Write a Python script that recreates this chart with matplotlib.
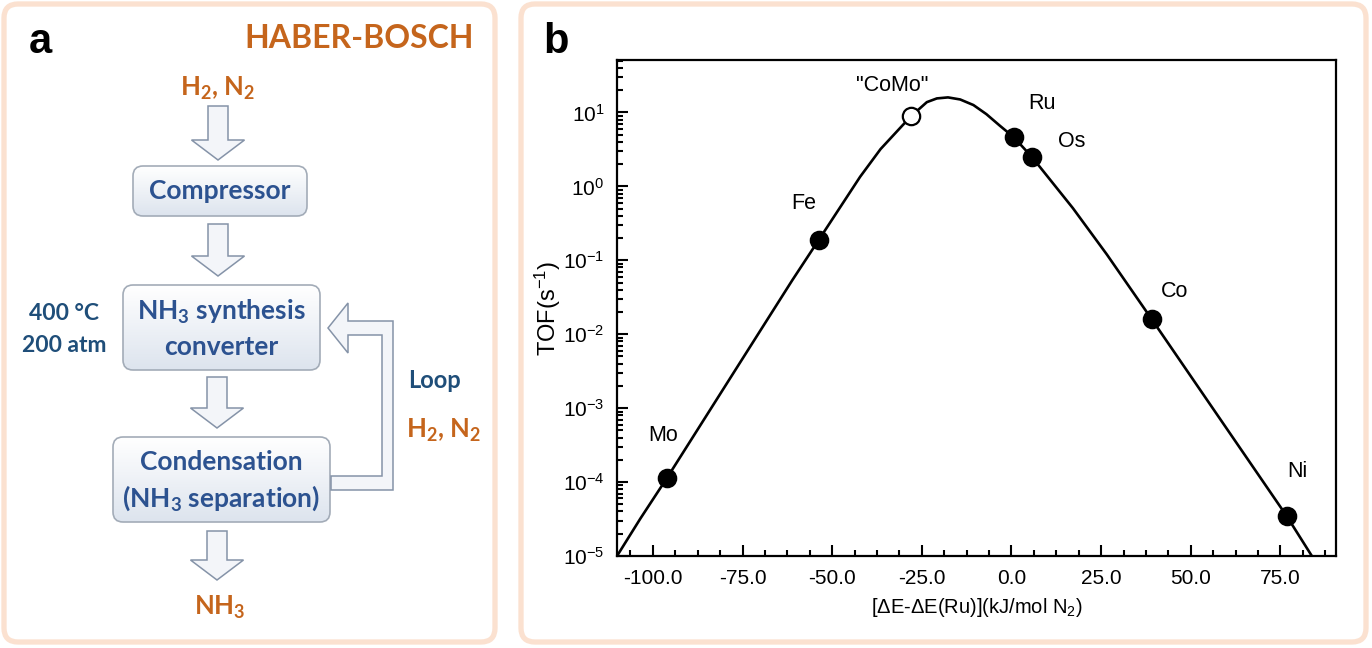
import numpy as np
import matplotlib

matplotlib.use("Agg")
import matplotlib.pyplot as plt
from matplotlib.patches import FancyBboxPatch, Polygon
from matplotlib.ticker import FixedLocator, MultipleLocator, LogLocator, FormatStrFormatter

# ---- panel b data ----
metals = ["Mo", "Fe", '"CoMo"', "Ru", "Os", "Co", "Ni"]
delta_e = [-96.0, -53.7, -28.0, 0.7, 5.7, 39.1, 76.7]
tof = [1.15e-4, 0.19, 8.9, 4.6, 2.5, 1.6e-2, 3.5e-5]
is_open = [False, False, True, False, False, False, False]
label_offsets = [(-4, 42), (-15, 36), (-19, 31), (28, 34), (40, 15), (23, 28), (11, 44)]

curve_x = [-110.0, -103.5, -96.0, -75.6, -61.1, -53.7, -42.2, -36.5, -30.5, -28.0,
           -23.6, -20.8, -17.7, -14.3, -10.6, -7.0, -3.2, 0.7, 5.7, 17.1, 26.6,
           39.1, 54.5, 76.7, 84.3]
curve_tof = [1.0e-5, 3.2e-5, 1.15e-4, 4.2e-3, 5.4e-2, 0.19, 1.35, 3.2, 6.6, 8.9,
             13.8, 15.5, 16.0, 15.0, 12.6, 9.5, 6.6, 4.6, 2.5, 0.51, 0.12,
             1.6e-2, 1.3e-3, 3.5e-5, 9.1e-6]

xticks = [-100.0, -75.0, -50.0, -25.0, 0.0, 25.0, 50.0, 75.0]

ORANGE = "#c5651c"
BLUE = "#2c5290"
NAVY = "#1f4e79"
PEACH = "#fbe1d0"

plt.rcParams.update({"font.family": ["Liberation Sans", "DejaVu Sans"],
                     "mathtext.default": "regular",
                     "axes.unicode_minus": False})

fig = plt.figure(figsize=(13.72, 6.48), dpi=100)

# background canvas in pixel coordinates (y down)
bg = fig.add_axes([0, 0, 1, 1])
bg.set_xlim(0, 1372)
bg.set_ylim(648, 0)
bg.set_autoscale_on(False)
bg.axis("off")

for x0, x1 in [(4, 495), (521, 1366)]:
    bg.add_patch(FancyBboxPatch((x0, 4), x1 - x0, 638,
                                boxstyle="round,pad=0,rounding_size=14",
                                fc="white", ec=PEACH, lw=3.8))

bg.text(40, 42, "a", fontsize=30, fontweight="bold", ha="center", va="center")
bg.text(556, 42, "b", fontsize=30, fontweight="bold", ha="center", va="center")

# ---- panel a: flowchart ----
FLOW = ["Lato", "DejaVu Sans"]
bg.text(474, 38, "HABER-BOSCH", fontsize=23, fontweight="bold", color=ORANGE,
        ha="right", va="center", family=FLOW)

grad = np.linspace(0, 1, 64).reshape(-1, 1)
box_cmap = matplotlib.colors.LinearSegmentedColormap.from_list(
    "box", ["#ffffff", "#dde4ee"])


def box(x0, y0, x1, y1, lines, ys):
    p = FancyBboxPatch((x0, y0), x1 - x0, y1 - y0,
                       boxstyle="round,pad=0,rounding_size=10",
                       fc="none", ec="#a3acb8", lw=1.2, zorder=3)
    bg.add_patch(p)
    im = bg.imshow(grad, extent=(x0, x1, y1, y0), cmap=box_cmap,
                   aspect="auto", zorder=2)
    im.set_clip_path(p)
    for t, y in zip(lines, ys):
        bg.text((x0 + x1) / 2, y, t, fontsize=19, fontweight="bold", color=BLUE,
                ha="center", va="center", family=FLOW, zorder=4)


def down_arrow(cx, top, tip, shaft=20, head=53, head_len=20):
    base = tip - head_len
    pts = [(cx - shaft / 2, top), (cx + shaft / 2, top), (cx + shaft / 2, base),
           (cx + head / 2, base), (cx, tip), (cx - head / 2, base),
           (cx - shaft / 2, base)]
    bg.add_patch(Polygon(pts, closed=True, fc="#f3f5f9", ec="#8593a8", lw=1.1,
                         zorder=3))


bg.text(218, 88, "H$_2$, N$_2$", fontsize=18.5, fontweight="bold", color=ORANGE,
        ha="center", va="center", family=FLOW)
down_arrow(218, 106, 160)
box(133, 166, 307, 216, ["Compressor"], [191])
down_arrow(218, 224, 276)
box(123, 285, 320, 370, ["NH$_3$ synthesis", "converter"], [312, 347])
down_arrow(217, 377, 428)
box(113, 437, 330, 522, ["Condensation", "(NH$_3$ separation)"], [462, 498])
down_arrow(217, 531, 580)
bg.text(220, 607, "NH$_3$", fontsize=18.5, fontweight="bold", color=ORANGE,
        ha="center", va="center", family=FLOW)

bg.text(64, 313, "400 °C", fontsize=16.5, fontweight="bold", color=NAVY,
        ha="center", va="center", family=FLOW)
bg.text(64, 345, "200 atm", fontsize=16.5, fontweight="bold", color=NAVY,
        ha="center", va="center", family=FLOW)

loop = [(331, 476), (382, 476), (382, 335), (348, 335), (348, 353), (328, 328),
        (348, 303), (348, 321), (393, 321), (393, 490), (331, 490)]
bg.add_patch(Polygon(loop, closed=True, fc="#f3f5f9", ec="#8593a8", lw=1.1,
                     zorder=3))
bg.text(434, 380, "Loop", fontsize=17, fontweight="bold", color=NAVY,
        ha="center", va="center", family=FLOW)
bg.text(444, 430, "H$_2$, N$_2$", fontsize=18.5, fontweight="bold", color=ORANGE,
        ha="center", va="center", family=FLOW)

# ---- panel b: volcano plot ----
ax = fig.add_axes([617 / 1372, 1 - 556 / 648, (1336 - 617) / 1372, (556 - 60) / 648])
ax.plot(curve_x, curve_tof, color="black", lw=1.9, zorder=2)
for x, y, op in zip(delta_e, tof, is_open):
    ax.plot(x, y, "o", ms=12.5, mfc="white" if op else "black", mec="black",
            mew=1.6, zorder=3)
for name, x, y, (dx, dy) in zip(metals, delta_e, tof, label_offsets):
    ax.annotate(name, (x, y), textcoords="offset pixels", xytext=(dx, dy),
                ha="center", va="center", fontsize=15.5)

ax.set_yscale("log")
ax.set_xlim(-110, 90.5)
ax.set_ylim(1e-5, 10 ** 1.71)
ax.xaxis.set_major_locator(FixedLocator(xticks))
ax.xaxis.set_major_formatter(FormatStrFormatter("%.1f"))
ax.xaxis.set_minor_locator(MultipleLocator(6.25))
ax.yaxis.set_major_locator(LogLocator(base=10, numticks=20))
ax.yaxis.set_minor_locator(LogLocator(base=10, subs=np.arange(2, 10), numticks=20))
ax.tick_params(which="both", direction="in", top=False, right=False, width=1.5,
               labelsize=15)
ax.tick_params(which="major", length=8, pad=9)
ax.tick_params(which="minor", length=4)
for s in ax.spines.values():
    s.set_linewidth(1.6)
ax.set_xlabel("[ΔE-ΔE(Ru)](kJ/mol N$_2$)", fontsize=14.5, labelpad=6)
ax.set_ylabel("TOF(s$^{-1}$)", fontsize=17, labelpad=0)

fig.savefig("out.png", dpi=100)
